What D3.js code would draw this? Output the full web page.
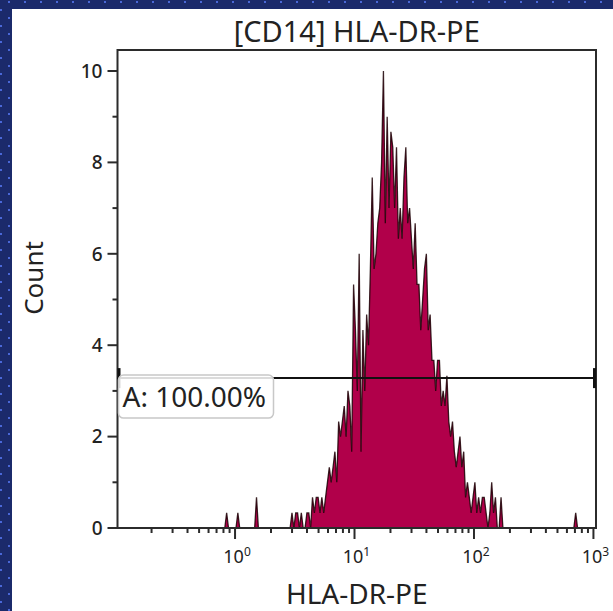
<!DOCTYPE html>
<html>
<head>
<meta charset="utf-8">
<script src="https://cdn.jsdelivr.net/npm/d3@7"></script>
<style>
  html, body { margin: 0; padding: 0; background: #fff; }
  svg { display: block; }
</style>
</head>
<body>
<svg id="chart" width="613" height="611"></svg>
<script>
// ---------------- DATA ----------------
const chartTitle = "[CD14] HLA-DR-PE";
const xLabel = "HLA-DR-PE";
const yLabel = "Count";
const gateName = "A";
const gatePercent = "100.00%";
const gateLevel = 3.28;            // y value of the gate line

// histogram channel grid: 256 log bins between 10^-1 and 10^3
const binLogMin = -1;
const binsPerDecade = 64;
const binCount = 256;

// main population counts, starting at bin mainFirstBin
const mainFirstBin = 94;
const mainCounts = [
  0.33, 0, 0.33, 0.33, 0, 0.33, 0, 0, 0.33, 0.33,
  0, 0.67, 0.33, 0.67, 0.67, 0.33, 0.67, 0.33, 0.67, 1.0,
  1.33, 1.0, 1.33, 1.67, 1.0, 2.33, 2.0, 2.33, 2.67, 2.0,
  3.0, 2.67, 1.67, 5.33, 4.33, 3.0, 6.0, 1.67, 4.33, 3.0,
  4.67, 4.0, 5.67, 7.67, 5.67, 6.0, 6.67, 7.0, 8.0, 10.0,
  6.67, 9.0, 7.0, 8.67, 8.33, 7.0, 8.33, 6.33, 7.0, 6.33,
  7.67, 8.33, 6.67, 7.0, 6.33, 5.67, 6.67, 5.33, 5.33, 4.33,
  5.0, 5.67, 6.0, 4.33, 4.67, 3.67, 3.67, 3.0, 3.67, 3.67,
  2.67, 3.0, 2.67, 3.33, 2.33, 2.0, 2.33, 1.67, 1.33, 1.67,
  2.0, 1.33, 1.67, 0.67, 1.0, 0.67, 0.33, 0.67, 1.0, 0.33,
  0.67, 0.33, 0.67, 0.67, 0.33, 0, 0.33, 1.0, 0.33, 0.67,
  0, 0, 0.67, 0
];
// isolated single events
const isolatedBins = [59, 65, 75, 246];
const isolatedCounts = [0.33, 0.33, 0.67, 0.33];

const yTicksMajor = [0, 2, 4, 6, 8, 10];
const yTicksMinor = [1, 3, 5, 7, 9];
const xDecades = [0, 1, 2, 3];           // exponents labelled 10^n
const xMinorMultipliers = [2, 3, 4, 5, 6, 7, 8, 9];

// ---------------- LAYOUT ----------------
const W = 613, H = 611;
const plot = { left: 117.5, right: 596, top: 50, bottom: 528 };

const svg = d3.select("#chart");

// border pattern
const defs = svg.append("defs");
const pat = defs.append("pattern")
  .attr("id", "dots").attr("patternUnits", "userSpaceOnUse")
  .attr("width", 16).attr("height", 16);
pat.append("rect").attr("width", 16).attr("height", 16).attr("fill", "#1b2a6b");
pat.append("rect").attr("x", 8).attr("y", 1).attr("width", 2).attr("height", 2).attr("fill", "#4a68d8");
pat.append("rect").attr("x", 0).attr("y", 9).attr("width", 2).attr("height", 2).attr("fill", "#4a68d8");

svg.append("rect").attr("width", W).attr("height", H).attr("fill", "#fff");
svg.append("rect").attr("x", 0).attr("y", 0).attr("width", W).attr("height", 9).attr("fill", "url(#dots)");
svg.append("rect").attr("x", 0).attr("y", 0).attr("width", 12).attr("height", H).attr("fill", "url(#dots)");

// scales
const x = d3.scaleLog()
  .domain([Math.pow(10, -0.984), Math.pow(10, 3.0215)])
  .range([plot.left, plot.right]);
const y = d3.scaleLinear().domain([0, 10]).range([plot.bottom, 71]);

// build histogram series
const counts = new Array(binCount).fill(0);
mainCounts.forEach((c, i) => { counts[mainFirstBin + i] = c; });
isolatedBins.forEach((b, i) => { counts[b] = isolatedCounts[i]; });
const series = counts.map((c, i) => ({
  v: Math.pow(10, binLogMin + (i + 0.5) / binsPerDecade),
  c: c
})).filter(d => d.v >= x.domain()[0] && d.v <= x.domain()[1]);

const clipId = "plotclip";
defs.append("clipPath").attr("id", clipId).append("rect")
  .attr("x", plot.left).attr("y", plot.top)
  .attr("width", plot.right - plot.left).attr("height", plot.bottom - plot.top);

const area = d3.area().x(d => x(d.v)).y0(y(0)).y1(d => y(d.c)).curve(d3.curveLinear);
const line = d3.line().x(d => x(d.v)).y(d => y(d.c)).curve(d3.curveLinear);

const g = svg.append("g").attr("clip-path", `url(#${clipId})`);
g.append("path").datum(series).attr("d", area).attr("fill", "#b1004a");
g.append("path").datum(series).attr("d", line)
  .attr("fill", "none").attr("stroke", "#1a0004").attr("stroke-width", 1.3)
  .attr("stroke-opacity", 0.85).attr("stroke-linejoin", "miter");

// frame
svg.append("rect")
  .attr("x", plot.left).attr("y", plot.top)
  .attr("width", plot.right - plot.left).attr("height", plot.bottom - plot.top)
  .attr("fill", "none").attr("stroke", "#2b2b2b").attr("stroke-width", 2);

// y axis ticks
const axisColor = "#2b2b2b";
const tickFont = "'Noto Sans', 'Open Sans', sans-serif";
svg.selectAll(".ymaj").data(yTicksMajor).join("line")
  .attr("x1", plot.left - 10).attr("x2", plot.left)
  .attr("y1", d => y(d)).attr("y2", d => y(d))
  .attr("stroke", axisColor).attr("stroke-width", 2);
svg.selectAll(".ymin").data(yTicksMinor).join("line")
  .attr("x1", plot.left - 5).attr("x2", plot.left)
  .attr("y1", d => y(d)).attr("y2", d => y(d))
  .attr("stroke", axisColor).attr("stroke-width", 2);
svg.selectAll(".ylab").data(yTicksMajor).join("text")
  .attr("x", plot.left - 15).attr("y", d => y(d))
  .attr("dy", "0.36em").attr("text-anchor", "end")
  .attr("font-family", tickFont).attr("font-size", 19).attr("font-weight", 500).attr("fill", "#222")
  .text(d => d);

// x axis ticks
const minorVals = [];
for (let e = -1; e <= 2; e++) xMinorMultipliers.forEach(m => {
  const v = m * Math.pow(10, e);
  if (v >= x.domain()[0] && v <= x.domain()[1]) minorVals.push(v);
});
svg.selectAll(".xmin").data(minorVals).join("line")
  .attr("x1", d => x(d)).attr("x2", d => x(d))
  .attr("y1", plot.bottom).attr("y2", plot.bottom + 5)
  .attr("stroke", axisColor).attr("stroke-width", 2);
svg.selectAll(".xmaj").data(xDecades).join("line")
  .attr("x1", d => x(Math.pow(10, d))).attr("x2", d => x(Math.pow(10, d)))
  .attr("y1", plot.bottom).attr("y2", plot.bottom + 11)
  .attr("stroke", axisColor).attr("stroke-width", 2);
const xl = svg.selectAll(".xlab").data(xDecades).join("text")
  .attr("x", d => x(Math.pow(10, d)) + 2).attr("y", 563)
  .attr("text-anchor", "middle")
  .attr("font-family", tickFont).attr("font-size", 18).attr("fill", "#222");
xl.append("tspan").text("10");
xl.append("tspan").attr("dy", -7).attr("font-size", 12).text(d => d);

// gate
const gy = y(gateLevel);
svg.append("line").attr("x1", plot.left).attr("x2", plot.right)
  .attr("y1", gy).attr("y2", gy).attr("stroke", "#111").attr("stroke-width", 2);
[plot.left + 1.5, plot.right - 1.5].forEach(xx => {
  svg.append("line").attr("x1", xx).attr("x2", xx)
    .attr("y1", gy - 10).attr("y2", gy + 10)
    .attr("stroke", "#111").attr("stroke-width", 3);
});
svg.append("rect").attr("x", plot.left + 1).attr("y", gy - 3)
  .attr("width", 155).attr("height", 43).attr("rx", 5)
  .attr("fill", "rgba(255,255,255,0.85)").attr("stroke", "#c8c8c8").attr("stroke-width", 1.5);
svg.append("text").attr("x", plot.left + 5).attr("y", gy + 29)
  .attr("font-family", tickFont).attr("font-size", 28).attr("fill", "#222")
  .text(`${gateName}: ${gatePercent}`);

// titles
const cx = (plot.left + plot.right) / 2;
svg.append("text").attr("x", cx).attr("y", 42)
  .attr("text-anchor", "middle").attr("font-family", tickFont)
  .attr("font-size", 29).attr("fill", "#222").text(chartTitle);
svg.append("text").attr("x", cx).attr("y", 604)
  .attr("text-anchor", "middle").attr("font-family", tickFont)
  .attr("font-size", 28).attr("fill", "#222").text(xLabel);
svg.append("text")
  .attr("transform", `translate(43, ${278}) rotate(-90)`)
  .attr("text-anchor", "middle").attr("font-family", tickFont)
  .attr("font-size", 26).attr("fill", "#222").text(yLabel);
</script>
</body>
</html>
